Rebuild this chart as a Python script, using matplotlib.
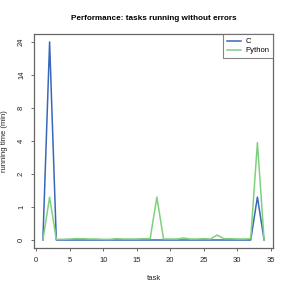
import numpy as np
import matplotlib
matplotlib.use("Agg")
import matplotlib.pyplot as plt

# ── Data ──────────────────────────────────────────────────────────────────
tasks = list(range(1, 35))
c_times = [0, 24] + [0.0] * 30 + [1.3, 0]
py_times = [0, 1.3,
            0.02, 0.02, 0.03, 0.04, 0.04, 0.03, 0.03, 0.02, 0.02, 0.04,
            0.03, 0.03, 0.03, 0.04, 0.04, 1.3, 0.03, 0.03, 0.03, 0.06,
            0.03, 0.03, 0.04, 0.03, 0.15, 0.04, 0.04, 0.03, 0.03, 0.04,
            3.9, 0]
y_ticks = [0, 1, 2, 4, 8, 14, 24]

# ── Piecewise-linear y scale: ticks equally spaced ───────────────────────
tick_pos = np.arange(len(y_ticks), dtype=float)


def fwd(v):
    v = np.asarray(v, dtype=float)
    lo = (v - y_ticks[0]) / (y_ticks[1] - y_ticks[0])
    hi = tick_pos[-1] + (v - y_ticks[-1]) / (y_ticks[-1] - y_ticks[-2])
    return np.where(v < y_ticks[0], lo,
                    np.where(v > y_ticks[-1], hi, np.interp(v, y_ticks, tick_pos)))


def inv(p):
    p = np.asarray(p, dtype=float)
    lo = y_ticks[0] + p * (y_ticks[1] - y_ticks[0])
    hi = y_ticks[-1] + (p - tick_pos[-1]) * (y_ticks[-1] - y_ticks[-2])
    return np.where(p < 0, lo,
                    np.where(p > tick_pos[-1], hi, np.interp(p, tick_pos, y_ticks)))


plt.rcParams["font.family"] = ["Liberation Sans", "DejaVu Sans"]

fig = plt.figure(figsize=(2.91, 2.91), dpi=100)
ax = fig.add_axes([0.117, 0.148, 0.821, 0.735])
ax.set_yscale("function", functions=(fwd, inv))

ax.plot(tasks, c_times, color="#3a68b8", lw=1.1, label="C")
ax.plot(tasks, py_times, color="#7fd17f", lw=1.1, label="Python")

ax.set_xlim(-0.32, 35.32)
ax.set_ylim(inv(-0.24), inv(6.24))
ax.set_xticks([0, 5, 10, 15, 20, 25, 30, 35])
ax.set_yticks(y_ticks)
ax.set_yticklabels([str(t) for t in y_ticks], rotation=90, va="center")
ax.minorticks_off()
ax.tick_params(labelsize=5.5, length=2.5, width=0.6, color="#555555",
               labelcolor="#222222", pad=4)

for s in ax.spines.values():
    s.set_color("#666666")
    s.set_linewidth(0.9)

ax.set_title("Performance: tasks running without errors",
             fontsize=5.9, fontweight="bold", pad=10)
ax.set_xlabel("task", fontsize=5.5, labelpad=8, color="#222222")
ax.set_ylabel("running time (min)", fontsize=5.5, labelpad=7, color="#222222")

leg = ax.legend(loc="upper right", fontsize=5.5, frameon=True, fancybox=False,
                borderaxespad=0, handlelength=1.8, handletextpad=0.6,
                borderpad=0.5, labelspacing=0.25)
leg.get_frame().set_edgecolor("#666666")
leg.get_frame().set_linewidth(0.8)

fig.savefig("out.png", dpi=100)
